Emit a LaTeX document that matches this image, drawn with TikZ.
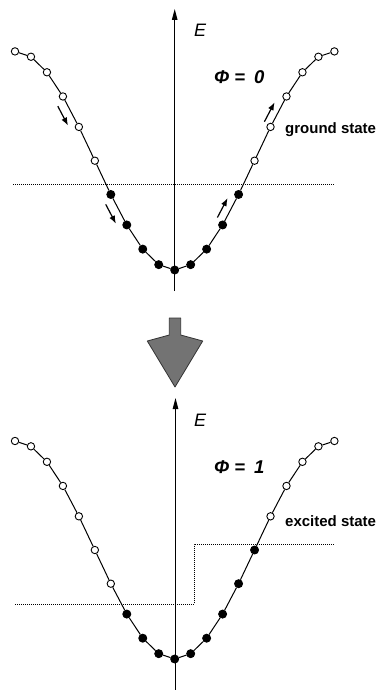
\documentclass[tikz,border=0pt]{standalone}
\usepackage{fontspec}
\setmainfont{Liberation Sans}
\usetikzlibrary{arrows.meta}
\tikzset{
  site/.style={circle,draw,line width=0.9pt,minimum size=7.4pt,inner sep=0pt,fill=white},
  occ/.style={site,minimum size=8pt,fill=black},
  band/.style={line width=1pt},
  axisline/.style={line width=1pt,-{Triangle[length=11pt,width=5.5pt]}},
  fermi/.style={line width=0.7pt,dash pattern=on 1pt off 1pt},
  shiftarrow/.style={line width=1.2pt,-{Latex[length=8pt,width=6pt]}},
  statelab/.style={anchor=west,inner sep=0pt,font=\fontsize{15}{15}\selectfont\bfseries},
  elab/.style={inner sep=0pt,font=\fontsize{18}{18}\selectfont\itshape},
  philab/.style={anchor=west,inner sep=0pt,font=\fontsize{18.5}{18.5}\selectfont\bfseries\itshape},
}
\begin{document}
\begin{tikzpicture}[x=1pt,y=-1pt]
\useasboundingbox (0,0) rectangle (378,690);
% lattice positions
\foreach \i in {0,...,20}{
  \pgfmathsetmacro\xx{174.7+(\i-10)*15.97}
  \pgfmathsetmacro\yu{270-109.3*(1-cos(18*(\i-10)))}
  \pgfmathsetmacro\yl{659-109*(1-cos(18*(\i-10)))}
  \coordinate (pu\i) at (\xx,\yu);
  \coordinate (pl\i) at (\xx,\yl);
}
% ---------- upper panel ----------
\coordinate (uaxb) at (174.7,291);
\coordinate (uaxt) at (174.7,9);
\draw[axisline] (uaxb) -- (uaxt);
\node[elab] (uE) at (200,30) {E};
\node[philab] (uphi) at (214,77) {Φ\hspace{5pt}=\hspace{9pt}0};
\node[statelab] (ugs) at (285,130) {ground state};
\coordinate (ufl) at (13,184.3);
\coordinate (ufr) at (334.5,184.3);
\draw[fermi] (ufl) -- (ufr);
\foreach \i in {0,...,5,15,16,...,20} \node[site] (u\i) at (pu\i) {};
\foreach \i in {6,...,14} \node[occ] (u\i) at (pu\i) {};
\foreach \i [evaluate=\i as \j using int(\i+1)] in {0,...,19} \draw[band] (u\i) -- (u\j);
% shift arrows
\coordinate (a1t) at (57.8,106.2);  \coordinate (a1h) at (68.0,125.6);
\coordinate (a2t) at (105.7,204.3); \coordinate (a2h) at (115.9,223.7);
\coordinate (a3t) at (217.4,217.5); \coordinate (a3h) at (227.6,198.1);
\coordinate (a4t) at (264.4,121.7); \coordinate (a4h) at (274.6,102.3);
\draw[shiftarrow] (a1t) -- (a1h);
\draw[shiftarrow] (a2t) -- (a2h);
\draw[shiftarrow] (a3t) -- (a3h);
\draw[shiftarrow] (a4t) -- (a4h);
% ---------- big arrow ----------
\filldraw[fill=black!55,draw=black!80,line width=0.8pt,line join=round]
  (169.3,318) -- (180.7,318) -- (180.7,335) -- (202.7,341) -- (175,387)
  -- (147.3,341) -- (169.3,335) -- cycle;
% ---------- lower panel ----------
\coordinate (laxb) at (175.5,690);
\coordinate (laxt) at (175.5,398);
\draw[axisline] (laxb) -- (laxt);
\node[elab] (lE) at (200,420) {E};
\node[philab] (lphi) at (214,467) {Φ\hspace{5pt}=\hspace{9pt}1};
\node[statelab] (les) at (285,521) {excited state};
\coordinate (lf1) at (15,604);
\coordinate (lf2) at (194.3,604);
\coordinate (lf3) at (194.3,544.3);
\coordinate (lf4) at (335,544.3);
\draw[fermi] (lf1) -- (lf2) -- (lf3) -- (lf4);
\foreach \i in {0,...,6,16,17,...,20} \node[site] (l\i) at (pl\i) {};
\foreach \i in {7,...,15} \node[occ] (l\i) at (pl\i) {};
\foreach \i [evaluate=\i as \j using int(\i+1)] in {0,...,19} \draw[band] (l\i) -- (l\j);
\end{tikzpicture}
\end{document}
